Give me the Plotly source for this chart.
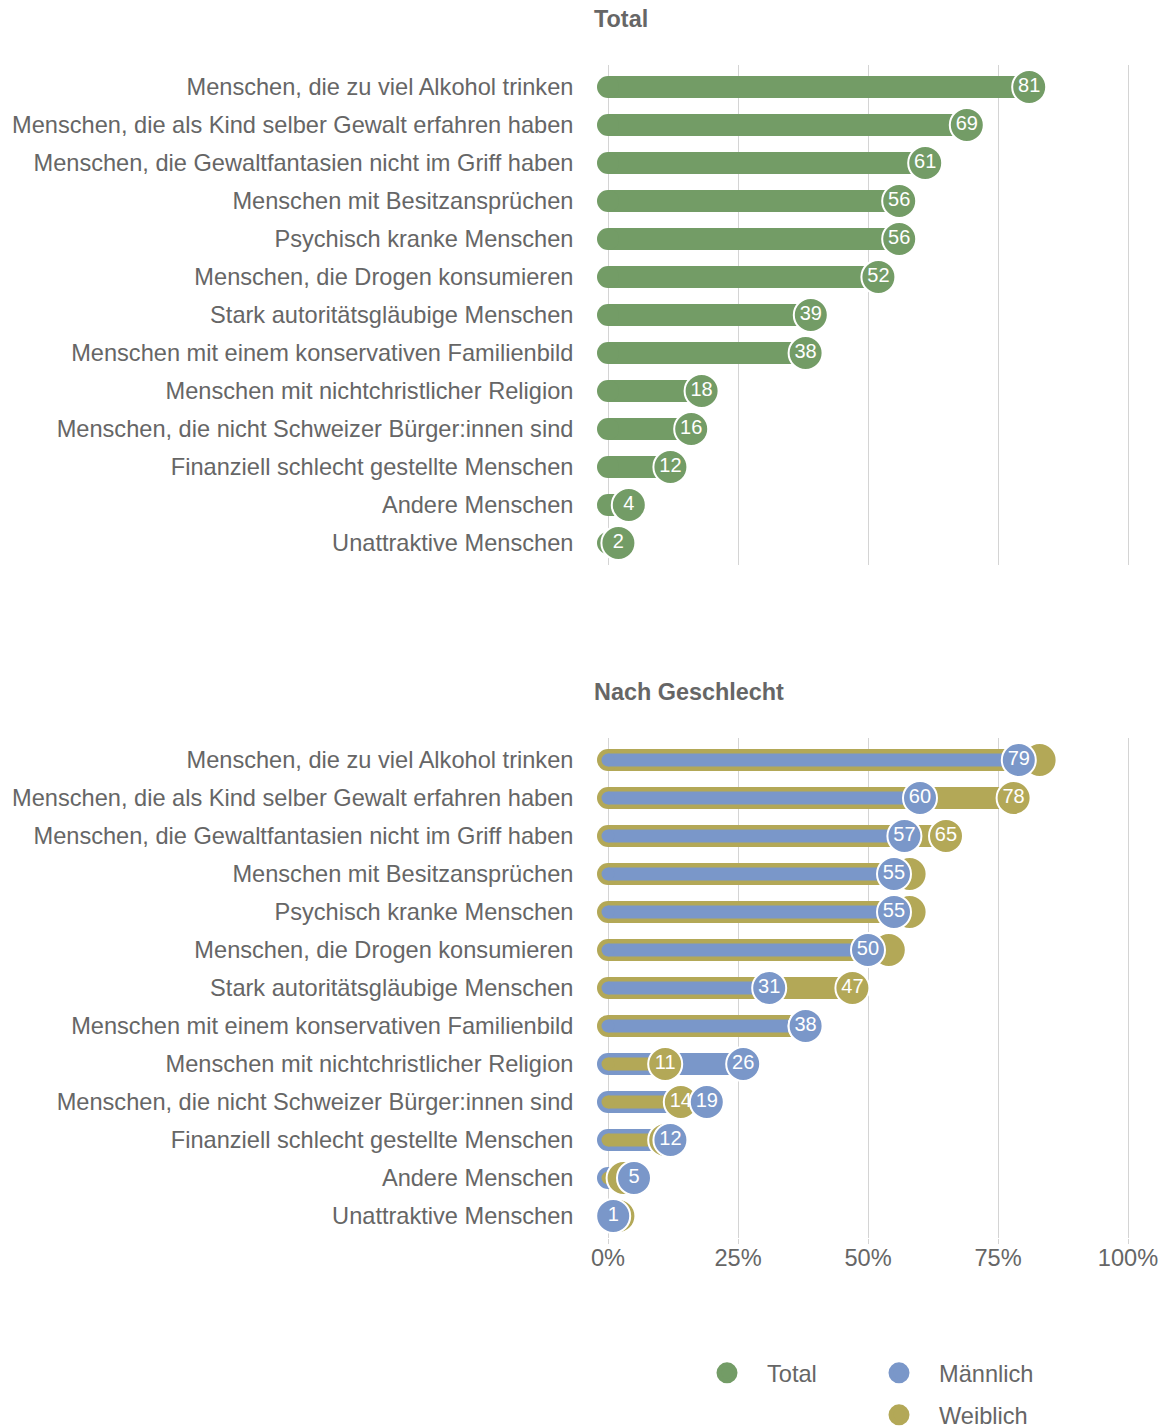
import plotly.graph_objects as go

# Kategorien (von oben nach unten)
kategorien = [
    "Menschen, die zu viel Alkohol trinken",
    "Menschen, die als Kind selber Gewalt erfahren haben",
    "Menschen, die Gewaltfantasien nicht im Griff haben",
    "Menschen mit Besitzansprüchen",
    "Psychisch kranke Menschen",
    "Menschen, die Drogen konsumieren",
    "Stark autoritätsgläubige Menschen",
    "Menschen mit einem konservativen Familienbild",
    "Menschen mit nichtchristlicher Religion",
    "Menschen, die nicht Schweizer Bürger:innen sind",
    "Finanziell schlecht gestellte Menschen",
    "Andere Menschen",
    "Unattraktive Menschen",
]

total = [81, 69, 61, 56, 56, 52, 39, 38, 18, 16, 12, 4, 2]
maennlich = [79, 60, 57, 55, 55, 50, 31, 38, 26, 19, 12, 5, 1]
weiblich = [83, 78, 65, 58, 58, 54, 47, 38, 11, 14, 11, 3, 2]

tick_werte = [0, 25, 50, 75, 100]
tick_texte = ["0%", "25%", "50%", "75%", "100%"]

GRUEN = "#739c66"
BLAU = "#7a97c9"
OLIV = "#b3a857"
GRAU = "#666666"
GRID = "#d4d4d4"
FONT = "Liberation Sans, Arial, sans-serif"

# Seite hat 8px Rand -> Figur etwas kleiner, Positionen verschoben
RAND = 8
W, H = 1167 - RAND, 1428 - RAND
BREIT = 22
SCHMAL = 13


def segmente(werte, maske):
    xs, ys = [], []
    for kat, v, m in zip(kategorien, werte, maske):
        if m:
            xs += [0, v, None]
            ys += [kat, kat, None]
    return xs, ys


def balken(fig, werte, maske, farbe, breite, xa, ya):
    xs, ys = segmente(werte, maske)
    fig.add_trace(go.Scatter(x=xs, y=ys, mode="lines", xaxis=xa, yaxis=ya,
                             line=dict(color=farbe, width=breite),
                             showlegend=False, hoverinfo="skip"))
    # runde Kappe am Anfang
    kx = [0 for m in maske if m]
    ky = [k for k, m in zip(kategorien, maske) if m]
    fig.add_trace(go.Scatter(x=kx, y=ky, mode="markers", xaxis=xa, yaxis=ya,
                             marker=dict(color=farbe, size=breite, line=dict(width=0)),
                             cliponaxis=False, showlegend=False, hoverinfo="skip"))


def kreise(fig, werte, texte, farbe, xa, ya):
    fig.add_trace(go.Scatter(x=werte, y=kategorien, mode="markers+text", xaxis=xa, yaxis=ya,
                             text=texte, textposition="middle center",
                             textfont=dict(color="white", size=20, family=FONT),
                             marker=dict(color=farbe, size=34, line=dict(color="white", width=2)),
                             cliponaxis=False, showlegend=False,
                             hovertemplate="%{y}: %{x}%<extra></extra>"))


fig = go.Figure()

# Panel Total
alle = [True] * len(kategorien)
balken(fig, total, alle, GRUEN, BREIT, "x", "y")
kreise(fig, total, [str(v) for v in total], GRUEN, "x", "y")

# Panel Nach Geschlecht: der grössere Wert als breiter Balken, der kleinere schmal darauf
w_gross = [w >= m for w, m in zip(weiblich, maennlich)]
m_gross = [not g for g in w_gross]
balken(fig, weiblich, w_gross, OLIV, BREIT, "x2", "y2")
balken(fig, maennlich, m_gross, BLAU, BREIT, "x2", "y2")
balken(fig, weiblich, m_gross, OLIV, SCHMAL, "x2", "y2")
balken(fig, maennlich, w_gross, BLAU, SCHMAL, "x2", "y2")
w_texte = [str(w) if abs(w - m) >= 5 else "" for w, m in zip(weiblich, maennlich)]
kreise(fig, weiblich, w_texte, OLIV, "x2", "y2")
kreise(fig, maennlich, [str(v) for v in maennlich], BLAU, "x2", "y2")

# Legende
for name, farbe, leg in [("Total", GRUEN, "legend"), ("Männlich", BLAU, "legend2"),
                         ("Weiblich", OLIV, "legend3")]:
    fig.add_trace(go.Scatter(x=[None], y=[None], mode="markers", name=name, legend=leg,
                             marker=dict(color=farbe, size=16, line=dict(color=farbe, width=5))))


def px_x(px):
    return (px - RAND) / W


def py(px):
    return 1 - (px - RAND) / H


x0, x1 = -3, 100.5
xdom = [px_x(608 + x0 * 5.2), px_x(608 + x1 * 5.2)]
n = len(kategorien)
yr = [n - 1 + 22 / 38, -22 / 38]

achse_x = dict(range=[x0, x1], domain=xdom, showgrid=True, gridcolor=GRID, gridwidth=1,
               zeroline=False, tickvals=tick_werte, ticktext=tick_texte, showline=False,
               fixedrange=True, automargin=False)
achse_y = dict(type="category", categoryorder="array", categoryarray=kategorien, range=yr,
               showgrid=False, zeroline=False, showline=False, ticks="",
               ticklabelstandoff=18, tickfont=dict(size=23.6, color=GRAU, family=FONT),
               fixedrange=True, automargin=False)

legende = dict(font=dict(size=23.6, color=GRAU, family=FONT), bgcolor="rgba(0,0,0,0)",
               itemsizing="trace", itemwidth=70, yanchor="middle", xanchor="left")

fig.update_layout(
    width=W, height=H,
    margin=dict(l=0, r=0, t=0, b=0, autoexpand=False),
    plot_bgcolor="white", paper_bgcolor="white",
    font=dict(family=FONT, color=GRAU, size=23),
    xaxis=dict(achse_x, anchor="y", showticklabels=False, ticks=""),
    yaxis=dict(achse_y, anchor="x", domain=[py(565), py(65)]),
    xaxis2=dict(achse_x, anchor="y2", showticklabels=True,
                ticks="outside", ticklen=5, tickcolor=GRID, ticklabelstandoff=-6,
                tickfont=dict(size=23.6, color=GRAU, family=FONT)),
    yaxis2=dict(achse_y, anchor="x2", domain=[py(1238), py(738)]),
    legend=dict(legende, x=px_x(727 - 40), y=py(1373)),
    legend2=dict(legende, x=px_x(899 - 40), y=py(1373)),
    legend3=dict(legende, x=px_x(899 - 40), y=py(1415)),
    annotations=[
        dict(text="<b>Total</b>", x=px_x(592), y=py(19), xref="paper", yref="paper",
             xanchor="left", yanchor="middle", showarrow=False,
             font=dict(size=23.4, color=GRAU, family=FONT)),
        dict(text="<b>Nach Geschlecht</b>", x=px_x(592), y=py(692), xref="paper", yref="paper",
             xanchor="left", yanchor="middle", showarrow=False,
             font=dict(size=23.4, color=GRAU, family=FONT)),
    ],
)

fig.write_html("out.html")
